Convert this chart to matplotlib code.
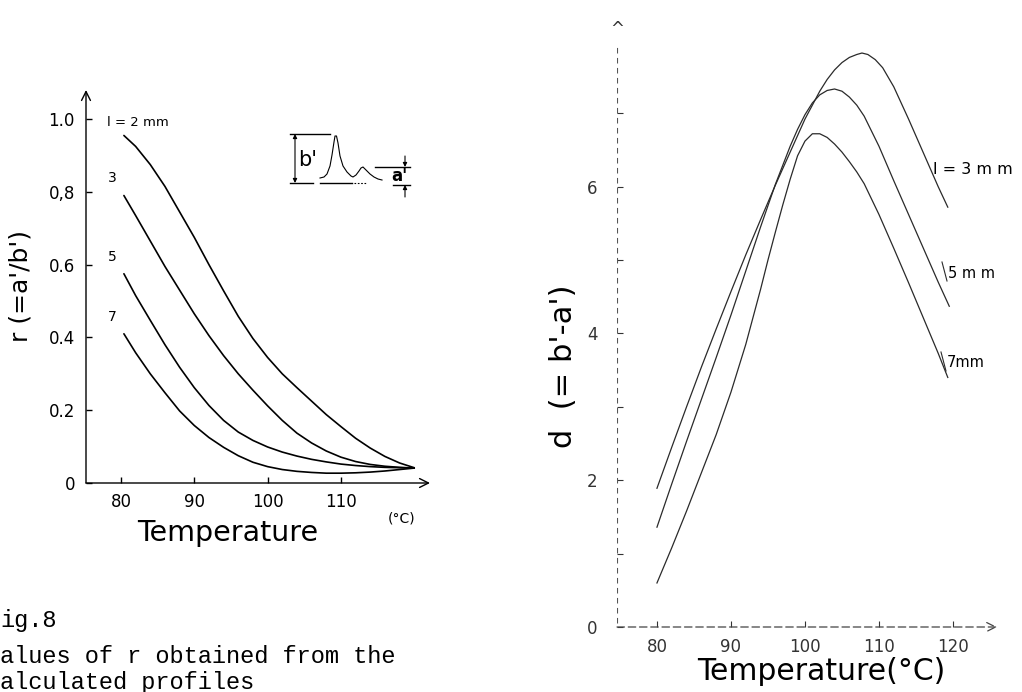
import numpy as np
import matplotlib.pyplot as plt

W, H = 1022, 692

# r = a'/b' against temperature, for path lengths l = 2, 3, 5, 7 mm
r_temp = [80.4, 82, 84, 86, 88, 90, 92, 94, 96, 98, 100, 102, 104, 106, 108, 110, 112, 114, 116, 118, 120]
r_2mm = [0.955, 0.925, 0.875, 0.815, 0.745, 0.675, 0.60, 0.528, 0.458, 0.397, 0.345, 0.30, 0.262, 0.225,
         0.188, 0.155, 0.123, 0.096, 0.073, 0.055, 0.042]
r_3mm = [0.79, 0.735, 0.665, 0.595, 0.53, 0.465, 0.405, 0.35, 0.30, 0.255, 0.212, 0.172, 0.137, 0.11,
         0.088, 0.071, 0.059, 0.051, 0.046, 0.043, 0.041]
r_5mm = [0.575, 0.515, 0.447, 0.38, 0.318, 0.262, 0.213, 0.172, 0.14, 0.117, 0.099, 0.085, 0.074, 0.065,
         0.058, 0.052, 0.048, 0.045, 0.043, 0.042, 0.041]
r_7mm = [0.41, 0.358, 0.30, 0.248, 0.198, 0.158, 0.125, 0.098, 0.075, 0.057, 0.045, 0.037, 0.032, 0.029,
         0.027, 0.027, 0.028, 0.03, 0.033, 0.037, 0.041]
r_curves = [r_2mm, r_3mm, r_5mm, r_7mm]
r_labels = ["3", "5", "7"]

# d = b' - a' against temperature, for l = 3, 5, 7 mm
d_temp_3 = [80, 82, 84, 86, 88, 90, 92, 94, 96, 98, 100, 102, 103, 104, 105, 106, 107, 107.7, 108.5,
            109.5, 110.5, 112, 114, 116, 118, 119.3]
d_3mm = [1.89, 2.45, 3.00, 3.54, 4.06, 4.57, 5.07, 5.55, 6.02, 6.47, 6.92, 7.3, 7.46, 7.59, 7.69, 7.76,
         7.8, 7.82, 7.8, 7.73, 7.62, 7.36, 6.92, 6.46, 6.0, 5.72]
d_temp_5 = [80, 82, 84, 86, 88, 90, 92, 94, 96, 98, 99, 100, 101, 102, 103, 104, 105, 106, 107, 108, 110,
            112, 114, 116, 118, 119.5]
d_5mm = [1.36, 1.95, 2.53, 3.1, 3.67, 4.25, 4.85, 5.45, 6.03, 6.55, 6.78, 6.98, 7.14, 7.25, 7.31, 7.33,
         7.3, 7.22, 7.11, 6.96, 6.55, 6.08, 5.62, 5.16, 4.7, 4.37]
d_temp_7 = [80, 82, 84, 86, 88, 90, 92, 94, 95, 96, 97, 98, 99, 100, 101, 102, 103, 104, 105, 106, 107,
            108, 110, 112, 114, 116, 118, 119.3]
d_7mm = [0.6, 1.08, 1.58, 2.1, 2.62, 3.2, 3.85, 4.6, 5.0, 5.38, 5.75, 6.1, 6.42, 6.62, 6.72, 6.72, 6.67,
         6.58, 6.47, 6.34, 6.2, 6.04, 5.62, 5.16, 4.69, 4.21, 3.73, 3.4]

# sketch of the peak pair in the corner of the r plot (pixel coordinates)
peak_x = [320, 324, 327, 330, 332, 334, 335, 336.5, 338, 340, 343, 347, 351, 353, 356, 359, 361, 363,
          366, 370, 374, 378, 382]
peak_y = [178, 177, 174, 166, 155, 142, 136, 136, 143, 156, 166, 172, 176, 177, 175, 171, 168, 167,
          170, 174, 177, 179, 180]


def fx(x):
    return x / W


def fy(y):
    return 1 - y / H


fig = plt.figure(figsize=(W / 100, H / 100), dpi=100)
fig.patch.set_facecolor("white")

# ---- left plot: r ----
axl = fig.add_axes([fx(86), fy(483), fx(430) - fx(86), fy(90) - fy(483)])
axl.set_xlim(75.23, 122.15)
axl.set_ylim(0, 1.08)
for s in axl.spines.values():
    s.set_visible(False)
axl.patch.set_alpha(0)
axl.annotate("", xy=(122.15, 0), xytext=(75.23, 0),
             arrowprops=dict(arrowstyle="->", lw=1.0, color="black", shrinkA=0, shrinkB=0,
                             mutation_scale=16))
axl.annotate("", xy=(75.23, 1.08), xytext=(75.23, 0),
             arrowprops=dict(arrowstyle="->", lw=1.0, color="black", shrinkA=0, shrinkB=0,
                             mutation_scale=16))
axl.set_xticks([80, 90, 100, 110])
axl.set_yticks([0, 0.2, 0.4, 0.6, 0.8, 1.0])
axl.set_yticklabels(["0", "0.2", "0.4", "0.6", "0,8", "1.0"])
axl.tick_params(direction="in", length=4, width=1, labelsize=12, pad=7)
axl.tick_params(axis="y", pad=8)

for vals in r_curves:
    axl.plot(r_temp, vals, color="black", lw=1.2, solid_capstyle="round")
fig.text(fx(107), fy(123), "l = 2 mm", fontsize=9.5, ha="left", va="center")
for vals, lab in zip(r_curves[1:], r_labels):
    axl.text(r_temp[0] - 1.0, vals[0] + 0.028, lab, fontsize=10, ha="right", va="bottom")

axl.text(-0.19, 0.5, "r (=a'/b')", transform=axl.transAxes, rotation=90,
         fontsize=18, ha="center", va="center")
fig.text(fx(228), fy(533), "Temperature", fontsize=20.5, ha="center", va="center")
fig.text(fx(402), fy(518), "(°C)", fontsize=10, ha="center", va="center")

# peak sketch with b' and a' marks
ins = fig.add_axes([0, 0, 1, 1])
ins.set_xlim(0, W)
ins.set_ylim(H, 0)
ins.axis("off")
ins.patch.set_alpha(0)
ins.plot(peak_x, peak_y, color="black", lw=0.8)
ins.plot([290, 330], [134, 134], color="black", lw=1.0)
ins.plot([290, 313], [183, 183], color="black", lw=1.0)
ins.plot([320, 352], [183, 183], color="black", lw=1.0)
ins.plot([354, 366], [183, 183], color="black", lw=0.8, ls=(0, (1.5, 1.5)))
ins.annotate("", xy=(295, 134), xytext=(295, 183),
             arrowprops=dict(arrowstyle="<|-|>", lw=0.8, color="black", mutation_scale=6,
                             shrinkA=0, shrinkB=0))
ins.text(298, 160, "b'", fontsize=15, ha="left", va="center")
ins.plot([375, 410], [167, 167], color="black", lw=1.0)
ins.plot([393, 410], [185, 185], color="black", lw=1.0)
ins.annotate("", xy=(405, 167), xytext=(405, 156),
             arrowprops=dict(arrowstyle="-|>", lw=0.8, color="black", mutation_scale=6,
                             shrinkA=0, shrinkB=0))
ins.annotate("", xy=(405, 185), xytext=(405, 197),
             arrowprops=dict(arrowstyle="-|>", lw=0.8, color="black", mutation_scale=6,
                             shrinkA=0, shrinkB=0))
ins.text(399, 176, "a'", fontsize=12, ha="center", va="center", fontweight="bold")

# ---- right plot: d ----
axr = fig.add_axes([fx(617), fy(627), fx(997) - fx(617), fy(20) - fy(627)])
axr.set_xlim(74.6, 125.95)
axr.set_ylim(0, 8.27)
for s in axr.spines.values():
    s.set_visible(False)
axr.patch.set_alpha(0)
axr.annotate("", xy=(125.95, 0), xytext=(74.6, 0),
             arrowprops=dict(arrowstyle="->", lw=0.9, color="#444444", shrinkA=0, shrinkB=0,
                             mutation_scale=16, ls=(0, (6, 3))))
axr.plot([74.6, 74.6], [0.05, 7.9], color="#555555", lw=0.8, ls=(0, (5, 4)))
axr.text(74.6, 8.27, "^", fontsize=12, ha="center", va="top", color="#333333")
axr.set_xticks([80, 90, 100, 110, 120])
axr.set_yticks(range(8))
axr.set_yticklabels(["0", "", "2", "", "4", "", "6", ""])
axr.tick_params(direction="in", length=4, width=0.8, labelsize=12, pad=8, colors="#333333")
axr.tick_params(axis="y", pad=14)

axr.plot(d_temp_3, d_3mm, color="#2a2a2a", lw=0.9)
axr.plot(d_temp_5, d_5mm, color="#2a2a2a", lw=0.9)
axr.plot(d_temp_7, d_7mm, color="#2a2a2a", lw=0.9)

fig.text(fx(933), fy(170), "l = 3 m m", fontsize=11.5, ha="left", va="center")
fig.text(fx(948), fy(273), "5 m m", fontsize=10.5, ha="left", va="center")
fig.text(fx(947), fy(363), "7mm", fontsize=10.5, ha="left", va="center")
ins.plot([942, 947], [262, 281], color="#2a2a2a", lw=0.8)
ins.plot([941, 946], [352, 371], color="#2a2a2a", lw=0.8)

fig.text(fx(563), fy(366), "d  (= b'-a')", rotation=90, fontsize=22, ha="center", va="center")
fig.text(fx(821), fy(672), "Temperature(°C)", fontsize=21.5, ha="center", va="center")

# ---- caption ----
cap = dict(family="Liberation Mono", fontsize=17, ha="left", va="baseline")
fig.text(fx(0), fy(627), "ig.8", **cap)
fig.text(fx(0), fy(663), "alues of r obtained from the", **cap)
fig.text(fx(0), fy(689), "alculated profiles", **cap)

fig.savefig("out.png", dpi=100, facecolor="white")
